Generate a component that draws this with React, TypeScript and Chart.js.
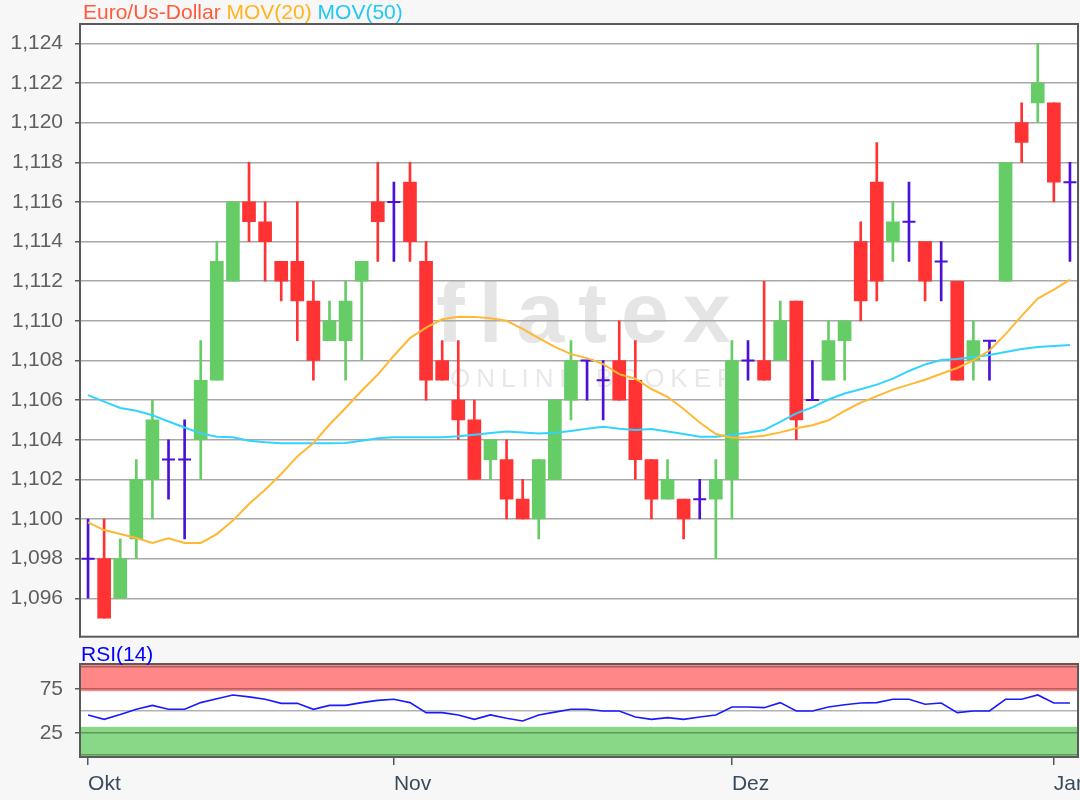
import React, { useEffect, useRef } from 'react';
import { Chart, registerables } from 'chart.js';

Chart.register(...registerables);

// ---------- data ----------
const opens = [
  1.098, 1.098, 1.096, 1.099, 1.102, 1.103, 1.103, 1.104, 1.107, 1.112,
  1.116, 1.115, 1.113, 1.113, 1.111, 1.109, 1.109, 1.112, 1.116, 1.116,
  1.117, 1.113, 1.108, 1.106, 1.105, 1.103, 1.103, 1.101, 1.100, 1.102,
  1.106, 1.108, 1.107, 1.108, 1.107, 1.103, 1.101, 1.101, 1.101, 1.101,
  1.102, 1.108, 1.108, 1.108, 1.111, 1.106, 1.107, 1.109, 1.114, 1.117,
  1.114, 1.115, 1.114, 1.113, 1.112, 1.108, 1.109, 1.112, 1.120, 1.121,
  1.121, 1.117,
];
const highs = [
  1.100, 1.100, 1.099, 1.103, 1.106, 1.104, 1.105, 1.109, 1.114, 1.116,
  1.118, 1.116, 1.113, 1.116, 1.112, 1.111, 1.112, 1.113, 1.118, 1.117,
  1.118, 1.114, 1.109, 1.109, 1.106, 1.104, 1.104, 1.102, 1.103, 1.106,
  1.109, 1.108, 1.108, 1.110, 1.109, 1.103, 1.103, 1.101, 1.102, 1.103,
  1.109, 1.109, 1.112, 1.111, 1.111, 1.108, 1.110, 1.110, 1.115, 1.119,
  1.116, 1.117, 1.114, 1.114, 1.112, 1.110, 1.109, 1.118, 1.121, 1.124,
  1.121, 1.118,
];
const lows = [
  1.096, 1.095, 1.096, 1.098, 1.100, 1.101, 1.099, 1.102, 1.107, 1.112,
  1.114, 1.112, 1.111, 1.109, 1.107, 1.109, 1.107, 1.108, 1.113, 1.113,
  1.113, 1.106, 1.107, 1.104, 1.102, 1.102, 1.100, 1.100, 1.099, 1.102,
  1.105, 1.106, 1.105, 1.106, 1.102, 1.100, 1.101, 1.099, 1.100, 1.098,
  1.100, 1.107, 1.107, 1.108, 1.104, 1.106, 1.107, 1.107, 1.110, 1.111,
  1.113, 1.113, 1.111, 1.111, 1.107, 1.107, 1.107, 1.112, 1.118, 1.120,
  1.116, 1.113,
];
const closes = [
  1.098, 1.095, 1.098, 1.102, 1.105, 1.103, 1.103, 1.107, 1.113, 1.116,
  1.115, 1.114, 1.112, 1.111, 1.108, 1.110, 1.111, 1.113, 1.115, 1.116,
  1.114, 1.107, 1.107, 1.105, 1.102, 1.104, 1.101, 1.100, 1.103, 1.106,
  1.108, 1.108, 1.107, 1.106, 1.103, 1.101, 1.102, 1.100, 1.101, 1.102,
  1.108, 1.108, 1.107, 1.110, 1.105, 1.106, 1.109, 1.110, 1.111, 1.112,
  1.115, 1.115, 1.112, 1.113, 1.107, 1.109, 1.109, 1.118, 1.119, 1.122,
  1.117, 1.117,
];
const mov20 = [
  1.09983, 1.09944, 1.09924, 1.09904, 1.09879, 1.09903, 1.09879, 1.09879, 1.09924, 1.09992,
  1.10076, 1.10148, 1.10227, 1.10316, 1.10383, 1.10477, 1.10560, 1.10647, 1.10729, 1.10824,
  1.10913, 1.10966, 1.11008, 1.11021, 1.11020, 1.11013, 1.11000, 1.10960, 1.10913, 1.10869,
  1.10832, 1.10812, 1.10782, 1.10731, 1.10708, 1.10656, 1.10617, 1.10555, 1.10487, 1.10429,
  1.10410, 1.10412, 1.10420, 1.10437, 1.10458, 1.10473, 1.10498, 1.10545, 1.10587, 1.10620,
  1.10653, 1.10678, 1.10703, 1.10733, 1.10762, 1.10800, 1.10850, 1.10933, 1.11025, 1.11112,
  1.11158, 1.11208,
];
const mov50 = [
  1.10625, 1.10592, 1.10560, 1.10546, 1.10524, 1.10492, 1.10462, 1.10432, 1.10415, 1.10412,
  1.10395, 1.10387, 1.10382, 1.10382, 1.10382, 1.10382, 1.10383, 1.10395, 1.10407, 1.10412,
  1.10412, 1.10412, 1.10412, 1.10417, 1.10425, 1.10434, 1.10442, 1.10437, 1.10432, 1.10435,
  1.10444, 1.10456, 1.10466, 1.10456, 1.10449, 1.10454, 1.10442, 1.10429, 1.10415, 1.10415,
  1.10425, 1.10435, 1.10449, 1.10490, 1.10533, 1.10563, 1.10603, 1.10633, 1.10655, 1.10678,
  1.10708, 1.10747, 1.10780, 1.10802, 1.10808, 1.10817, 1.10828, 1.10843, 1.10858, 1.10868,
  1.10873, 1.10878,
];
const rsi14 = [
  45.5, 40.5, 46, 52, 56.4, 51.9, 51.9, 59.5, 64, 68.2,
  66, 63.3, 58.7, 58.7, 51.9, 56.4, 56.4, 59.5, 62.1, 63.3,
  59.5, 48.1, 48.1, 45.5, 40.5, 45.5, 41.7, 38.6, 45.5, 48.7,
  51.9, 51.9, 50, 50, 43.2, 40.5, 42.4, 40.5, 43.2, 45.5,
  54.5, 54.5, 53.8, 59.5, 50, 50, 54.5, 57, 59, 59.5,
  63.3, 63.3, 57.6, 59.1, 48.1, 50, 50, 63.3, 63.3, 68.2,
  59.1, 59.1,
];
const monthLabels = ['Okt', 'Nov', 'Dez', 'Jan'];
const monthIndex = [0, 19, 40, 60];
const priceTicks = [
  1.096, 1.098, 1.1, 1.102, 1.104, 1.106, 1.108, 1.11, 1.112, 1.114, 1.116,
  1.118, 1.12, 1.122, 1.124,
];
const rsiTicks = [0, 25, 50, 75, 100];
const rsiLabeled = [25, 75];

// ---------- styles ----------
const FONT = '"Liberation Sans", Arial, sans-serif';
const UP = '#66cc66';
const DOWN = '#ff3333';
const DOJI = '#4b10d8';
const C_MOV20 = '#ffb833';
const C_MOV50 = '#33d3ff';
const PAGE_BG = '#f7f7f7';

function buildMain(): any {
  const idx = opens.map((_, i) => i);
  const dir = (i: number) => (closes[i] > opens[i] ? 1 : closes[i] < opens[i] ? -1 : 0);
  const wickData = idx.map((i) => ({ x: i, y: [lows[i], highs[i]] }));
  const wickColors = idx.map((i) => (dir(i) > 0 ? UP : dir(i) < 0 ? DOWN : DOJI));
  const bodyIdx = idx.filter((i) => dir(i) !== 0);
  const bodyData = bodyIdx.map((i) => ({
    x: i,
    y: [Math.min(opens[i], closes[i]), Math.max(opens[i], closes[i])],
  }));
  const bodyColors = bodyIdx.map((i) => (dir(i) > 0 ? UP : DOWN));
  const dojiData = idx.filter((i) => dir(i) === 0).map((i) => ({ x: i, y: opens[i] }));

  const deco = {
    id: 'mainDeco',
    beforeDraw(chart: any) {
      const { ctx, chartArea: a, width, height } = chart;
      ctx.save();
      ctx.fillStyle = PAGE_BG;
      ctx.fillRect(0, 0, width, height);
      ctx.fillStyle = '#ffffff';
      ctx.fillRect(a.left, a.top, a.right - a.left, a.bottom - a.top);
      // watermark
      ctx.fillStyle = '#e5e5e5';
      ctx.textAlign = 'left';
      ctx.textBaseline = 'alphabetic';
      ctx.font = 'bold 86px ' + FONT;
      (ctx as any).letterSpacing = '14px';
      ctx.fillText('flatex', 436, 342);
      ctx.font = '26px ' + FONT;
      (ctx as any).letterSpacing = '6px';
      ctx.fillStyle = '#e8e8e8';
      ctx.fillText('ONLINE BROKER', 450, 387);
      (ctx as any).letterSpacing = '0px';
      ctx.restore();
    },
    afterDraw(chart: any) {
      const { ctx, chartArea: a } = chart;
      ctx.save();
      ctx.strokeStyle = '#5a5a5a';
      ctx.lineWidth = 2;
      ctx.strokeRect(a.left, a.top, a.right - a.left, a.bottom - a.top);
      ctx.font = '21px ' + FONT;
      ctx.textAlign = 'left';
      ctx.textBaseline = 'alphabetic';
      let x = 83;
      const parts: [string, string][] = [
        ['Euro/Us-Dollar', '#ff5a3c'],
        ['MOV(20)', '#ffb41e'],
        ['MOV(50)', '#22c8f5'],
      ];
      const sp = ctx.measureText(' ').width;
      for (const [t, c] of parts) {
        ctx.fillStyle = c;
        ctx.fillText(t, x, 19);
        x += ctx.measureText(t).width + sp;
      }
      ctx.restore();
    },
  };

  return {
    type: 'bar',
    data: {
      datasets: [
        {
          type: 'line',
          label: 'MOV(20)',
          data: idx.map((i) => ({ x: i, y: mov20[i] })),
          borderColor: C_MOV20,
          borderWidth: 2,
          pointRadius: 0,
          tension: 0,
        },
        {
          type: 'line',
          label: 'MOV(50)',
          data: idx.map((i) => ({ x: i, y: mov50[i] })),
          borderColor: C_MOV50,
          borderWidth: 2,
          pointRadius: 0,
          tension: 0,
        },
        {
          type: 'line',
          label: 'doji',
          data: dojiData,
          showLine: false,
          pointStyle: 'line',
          pointRadius: 6.5,
          pointBorderColor: DOJI,
          pointBackgroundColor: DOJI,
          pointBorderWidth: 2,
          borderColor: DOJI,
        },
        {
          type: 'bar',
          label: 'body',
          data: bodyData,
          backgroundColor: bodyColors,
          barThickness: 13,
          grouped: false,
          borderWidth: 0,
        },
        {
          type: 'bar',
          label: 'wick',
          data: wickData,
          backgroundColor: wickColors,
          barThickness: 2,
          grouped: false,
          borderWidth: 0,
        },
      ],
    },
    options: {
      animation: false,
      responsive: false,
      devicePixelRatio: 1,
      events: [],
      layout: { autoPadding: false, padding: { top: 24, right: 2, bottom: 3.3, left: 0 } },
      plugins: { legend: { display: false }, tooltip: { enabled: false }, title: { display: false } },
      scales: {
        x: {
          type: 'linear',
          min: -0.5,
          max: 61.5,
          offset: false,
          display: false,
        },
        y: {
          type: 'linear',
          min: 1.09406,
          max: 1.12498,
          beginAtZero: false,
          afterBuildTicks: (s: any) => {
            s.ticks = priceTicks.map((v) => ({ value: v }));
          },
          afterFit: (s: any) => {
            s.width = 80;
            s.paddingTop = 0;
            s.paddingBottom = 0;
          },
          ticks: {
            autoSkip: false,
            callback: (v: any) => Number(v).toFixed(3).replace('.', ','),
            color: '#5f5f5f',
            font: { family: FONT, size: 21 },
            padding: 12,
          },
          grid: { color: '#a8a8a8', lineWidth: 1.5, tickLength: 5, tickColor: '#5a5a5a' },
          border: { display: true, color: '#5a5a5a', width: 2 },
        },
      },
    },
    plugins: [deco],
  };
}

function buildRsi(): any {
  const idx = rsi14.map((_, i) => i);
  const RED_FROM = 72.5;
  const GREEN_TO = 32;
  const deco = {
    id: 'rsiDeco',
    beforeDraw(chart: any) {
      const { ctx, chartArea: a, width, height, scales } = chart;
      const y = scales.y;
      ctx.save();
      ctx.fillStyle = PAGE_BG;
      ctx.fillRect(0, 0, width, height);
      ctx.fillStyle = '#ffffff';
      ctx.fillRect(a.left, a.top, a.right - a.left, a.bottom - a.top);
      const yr = y.getPixelForValue(RED_FROM);
      ctx.fillStyle = '#ff8787';
      ctx.fillRect(a.left, a.top, a.right - a.left, yr - a.top);
      const yg = y.getPixelForValue(GREEN_TO);
      ctx.fillStyle = '#88d888';
      ctx.fillRect(a.left, yg, a.right - a.left, a.bottom - yg);
      ctx.restore();
    },
    afterDraw(chart: any) {
      const { ctx, chartArea: a } = chart;
      ctx.save();
      ctx.strokeStyle = '#5a5a5a';
      ctx.lineWidth = 2;
      ctx.strokeRect(a.left, a.top, a.right - a.left, a.bottom - a.top);
      ctx.font = '21px ' + FONT;
      ctx.textAlign = 'left';
      ctx.textBaseline = 'alphabetic';
      ctx.fillStyle = '#0000ff';
      ctx.fillText('RSI(14)', 81, 21);
      ctx.restore();
    },
  };
  return {
    type: 'line',
    data: {
      datasets: [
        {
          label: 'RSI(14)',
          data: idx.map((i) => ({ x: i, y: rsi14[i] })),
          borderColor: '#1a1aff',
          borderWidth: 1.6,
          pointRadius: 0,
          tension: 0,
        },
      ],
    },
    options: {
      animation: false,
      responsive: false,
      devicePixelRatio: 1,
      events: [],
      layout: { autoPadding: false, padding: { top: 24, right: 2, bottom: 0, left: 0 } },
      plugins: { legend: { display: false }, tooltip: { enabled: false } },
      scales: {
        x: {
          type: 'linear',
          min: -0.5,
          max: 61.5,
          offset: false,
          afterBuildTicks: (s: any) => {
            s.ticks = monthIndex.map((v) => ({ value: v }));
          },
          afterFit: (s: any) => {
            s.height = 43;
            s.paddingLeft = 0;
            s.paddingRight = 0;
          },
          ticks: {
            callback: (v: any) => {
              const k = monthIndex.indexOf(Number(v));
              return k >= 0 ? monthLabels[k] : '';
            },
            align: 'start',
            autoSkip: false,
            maxRotation: 0,
            color: '#3c4b5c',
            font: { family: FONT, size: 21 },
            padding: 7,
          },
          grid: { drawOnChartArea: false, tickLength: 8, tickColor: '#4a5866', lineWidth: 1.5 },
          border: { display: true, color: '#5a5a5a', width: 2 },
        },
        y: {
          type: 'linear',
          min: -2.3,
          max: 103.4,
          afterBuildTicks: (s: any) => {
            s.ticks = rsiTicks.map((v) => ({ value: v }));
          },
          afterFit: (s: any) => {
            s.width = 80;
            s.paddingTop = 0;
            s.paddingBottom = 0;
          },
          ticks: {
            autoSkip: false,
            callback: (v: any) => (rsiLabeled.includes(Number(v)) ? String(v) : ''),
            color: '#5f5f5f',
            font: { family: FONT, size: 21 },
            padding: 12,
          },
          grid: {
            color: 'rgba(0,0,0,0.3)',
            lineWidth: 1.5,
            tickLength: 5,
            tickColor: (c: any) =>
              c.tick && rsiLabeled.includes(c.tick.value) ? '#5a5a5a' : 'rgba(0,0,0,0)',
          },
          border: { display: true, color: '#5a5a5a', width: 2 },
        },
      },
    },
    plugins: [deco],
  };
}

export default function App() {
  const mainRef = useRef<HTMLCanvasElement>(null);
  const rsiRef = useRef<HTMLCanvasElement>(null);

  useEffect(() => {
    const c1 = new Chart(mainRef.current as HTMLCanvasElement, buildMain());
    const c2 = new Chart(rsiRef.current as HTMLCanvasElement, buildRsi());
    return () => {
      c1.destroy();
      c2.destroy();
    };
  }, []);

  return (
    <div
      style={{
        position: 'absolute',
        left: 0,
        top: 0,
        width: 1080,
        height: 800,
        background: PAGE_BG,
        overflow: 'hidden',
      }}
    >
      <canvas
        ref={mainRef}
        width={1080}
        height={640}
        style={{ position: 'absolute', left: 0, top: 0, width: 1080, height: 640 }}
      />
      <canvas
        ref={rsiRef}
        width={1080}
        height={160}
        style={{ position: 'absolute', left: 0, top: 640, width: 1080, height: 160 }}
      />
    </div>
  );
}
